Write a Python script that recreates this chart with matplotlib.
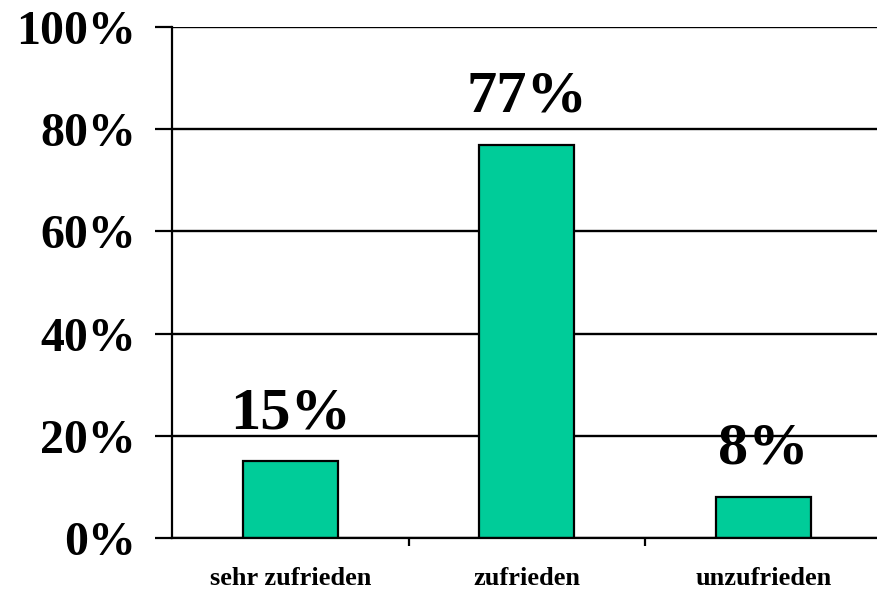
import matplotlib.pyplot as plt
import numpy as np

categories = ['sehr zufrieden', 'zufrieden', 'unzufrieden']
values = [15, 77, 8]
yticks = [0, 20, 40, 60, 80, 100]

plt.rcParams['font.family'] = ['Liberation Serif', 'DejaVu Serif']
plt.rcParams['font.weight'] = 'bold'

W, H = 877, 589
fig = plt.figure(figsize=(W / 100, H / 100), dpi=100)
ax = fig.add_axes([172 / W, 1 - 538 / H, 709.5 / W, 511 / H])

x = np.arange(len(categories))
ax.bar(x, values, width=0.4, color='#00CC99', edgecolor='black', linewidth=1.6, zorder=3)

ax.set_xlim(-0.5, 2.5)
ax.set_ylim(0, 100)
ax.set_yticks(yticks)
ax.set_yticklabels([f'{v}%' for v in yticks], fontsize=34.5, fontweight='bold')
ax.yaxis.grid(True, color='black', linewidth=1.7, zorder=0)
ax.tick_params(axis='y', length=12, width=1.6, pad=14)

ax.set_xticks([0.5, 1.5])
ax.set_xticklabels([])
ax.set_xticks(x, minor=True)
ax.set_xticklabels(categories, minor=True, fontsize=19, fontweight='bold')
ax.tick_params(axis='x', which='major', length=6, width=1.6, direction='out')
ax.tick_params(axis='x', which='minor', length=0, pad=21)

for s in ['top', 'right']:
    ax.spines[s].set_visible(False)
ax.spines['left'].set_linewidth(1.6)
ax.spines['bottom'].set_linewidth(1.6)
ax.spines['bottom'].set_zorder(4)

for xi, v in zip(x, values):
    ax.annotate(f'{v}%', (xi, v), xytext=(0, 24), textcoords='offset points',
                ha='center', va='baseline', fontsize=43.5, fontweight='bold', zorder=5)

fig.savefig('out.png', dpi=100)
